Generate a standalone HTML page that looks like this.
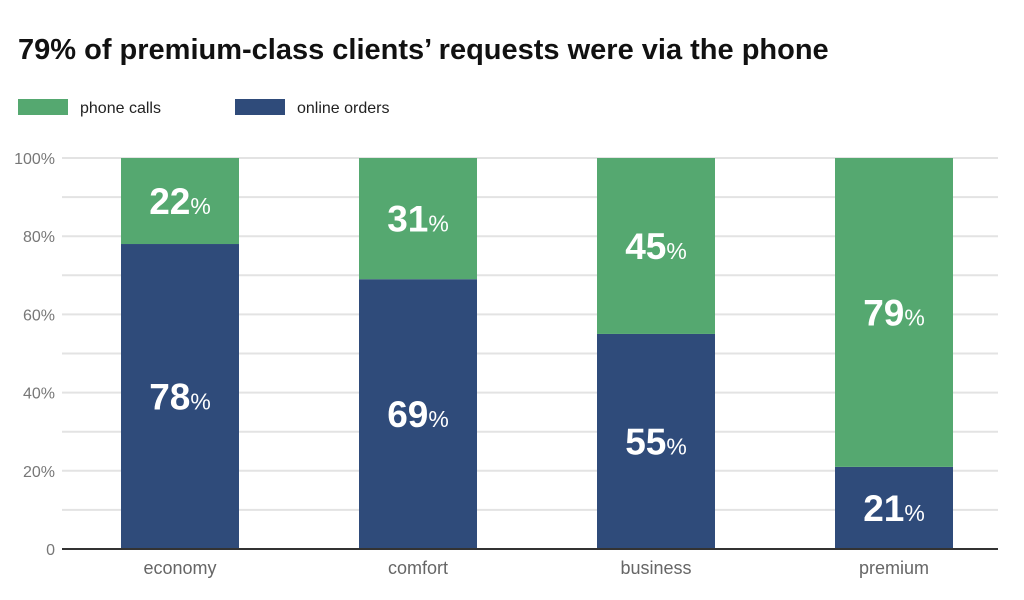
<!DOCTYPE html>
<html><head><meta charset="utf-8"><style>
html,body{margin:0;padding:0;background:#fff;width:1024px;height:600px;overflow:hidden;font-family:"Liberation Sans","DejaVu Sans",sans-serif}
</style></head><body>
<svg id="chart" width="1024" height="600" xmlns="http://www.w3.org/2000/svg">
<text x="18" y="59" font-size="29" font-weight="bold" fill="#111">79% of premium-class clients’ requests were via the phone</text>
<g>
<rect x="18" y="99" width="50" height="16" fill="#55a870"/>
<text x="80" y="113" font-size="16" fill="#222">phone calls</text>
<rect x="235" y="99" width="50" height="16" fill="#2f4b7a"/>
<text x="297" y="113" font-size="16" fill="#222">online orders</text>
</g>
<g id="grid"></g><g id="bars"></g><g id="axes"></g>
</svg>
<script>
const categories = ["economy","comfort","business","premium"];
const onlineOrders = [78,69,55,21];
const phoneCalls = [22,31,45,79];
const yTicks = [0,20,40,60,80,100];
const yTickLabels = ["0","20%","40%","60%","80%","100%"];

const NS="http://www.w3.org/2000/svg";
const y0=549, yTop=158, xL=62, xR=998, barW=118, firstX=121, step=238;
function yScale(v){return y0-(y0-yTop)*v/100;}
function xScale(i){return firstX+step*i;}
function mk(tag,attrs,parent){const e=document.createElementNS(NS,tag);for(const k in attrs)e.setAttribute(k,attrs[k]);parent.appendChild(e);return e;}
const grid=document.getElementById('grid'),bars=document.getElementById('bars'),axes=document.getElementById('axes');
for(let v=10;v<=100;v+=10){
  const l=mk('line',{x1:xL,x2:xR,y1:yScale(v),y2:yScale(v),stroke:'#e3e3e3','stroke-width':2},grid);
  
  
}
yTicks.forEach((v,i)=>{
  const t=mk('text',{x:55,y:yScale(v)+6,'text-anchor':'end','font-size':16,fill:'#777'},axes);
  t.textContent=yTickLabels[i];
  
  
});
const base=mk('line',{x1:xL,x2:xR,y1:y0,y2:y0,stroke:'#333','stroke-width':2},axes);


function label(cx,cy,v,parent){
  const t=mk('text',{x:cx,y:cy+13,'text-anchor':'middle',fill:'#fff'},parent);
  const a=mk('tspan',{'font-size':37,'font-weight':'bold'},t);a.textContent=v;
  const b=mk('tspan',{'font-size':23},t);b.textContent='%';
  
  
}
categories.forEach((c,i)=>{
  const x=xScale(i);
  const yo=yScale(onlineOrders[i]);
  const yp=yScale(onlineOrders[i]+phoneCalls[i]);
  const r1=mk('rect',{x:x,y:yo,width:barW,height:y0-yo,fill:'#2f4b7a'},bars);
  
  
  const r2=mk('rect',{x:x,y:yp,width:barW,height:yo-yp,fill:'#55a870'},bars);
  
  
  label(x+barW/2,(yo+y0)/2,onlineOrders[i],bars);
  label(x+barW/2,(yp+yo)/2,phoneCalls[i],bars);
  const t=mk('text',{x:x+barW/2,y:574,'text-anchor':'middle','font-size':18,fill:'#666'},axes);
  t.textContent=c;
  
  
});
</script>
</body></html>
